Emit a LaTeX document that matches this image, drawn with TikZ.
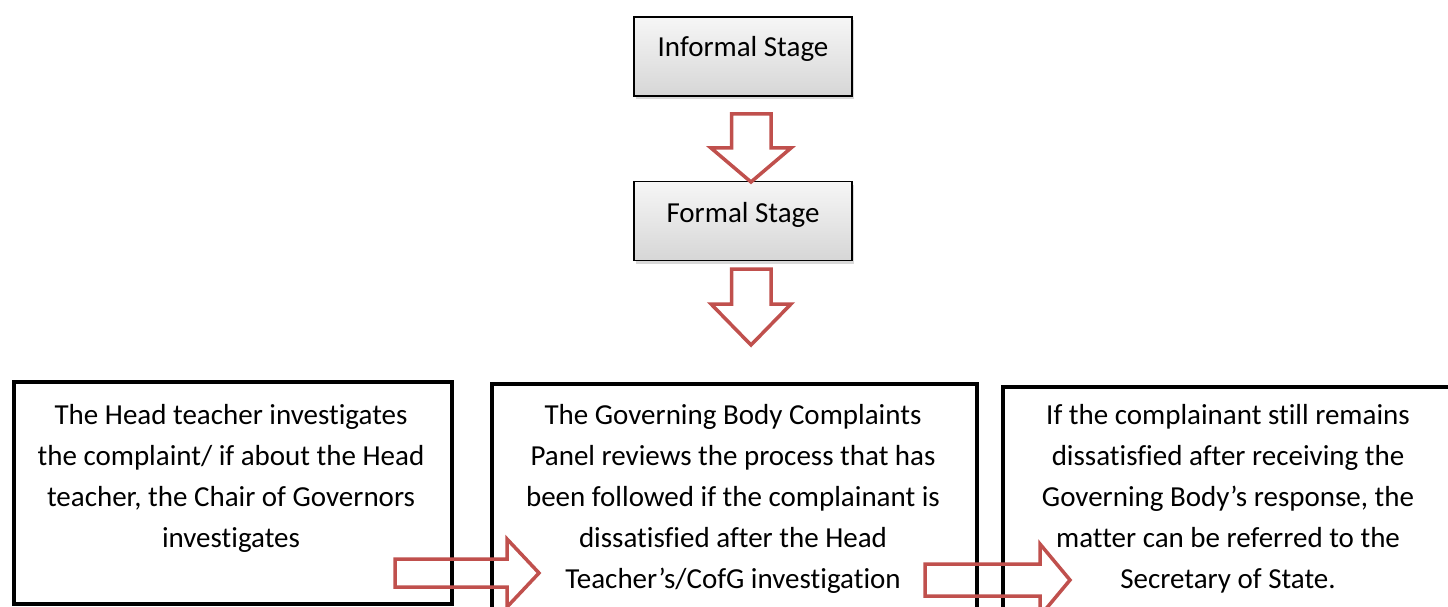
\documentclass[tikz,border=0pt]{standalone}
\usepackage{fontspec}
\setmainfont{Carlito}[RawFeature={-liga;-clig}]
\usetikzlibrary{shadows}
\definecolor{arrowred}{HTML}{C0504D}
\tikzset{
  stagebox/.style={draw=black, line width=1.6pt, top color=gray!7, bottom color=gray!32,
    minimum width=218pt, minimum height=79pt, inner sep=0pt,
    drop shadow={shadow xshift=2pt, shadow yshift=-3pt, opacity=0.3}},
  bigbox/.style={draw=black, line width=4pt, inner sep=0pt, anchor=north west},
  stagetext/.style={font=\fontsize{29}{35}\selectfont, inner sep=0pt, anchor=base},
  bodytext/.style={font=\fontsize{29}{41}\selectfont, inner sep=0pt, align=center, anchor=north},
  blockarrow/.style={draw=arrowred, line width=3.5pt, line join=miter, fill=none}
}
\begin{document}
\begin{tikzpicture}[x=1pt,y=-1pt]
\useasboundingbox (0,0) rectangle (1448,607);
\clip (0,0) rectangle (1448,607);
\fill[white] (0,0) rectangle (1448,607);

% top stage boxes
\node[stagebox] (informal) at (743,56.5) {};
\node[stagetext] (informaltext) at (743,56.5) {Informal Stage};
\node[stagebox] (formal) at (743,221) {};
\node[stagetext] (formaltext) at (743,222) {Formal Stage};

% bottom boxes
\node[bigbox, minimum width=438pt, minimum height=222.5pt] (headbox) at (12,379.5) {};
\node[bigbox, minimum width=485.5pt, minimum height=260pt] (panelbox) at (489.5,382) {};
\node[bigbox, minimum width=460pt, minimum height=260pt] (statebox) at (1001,385) {};

\node[bodytext] (headtext) at (231,404) {The Head teacher investigates\\the complaint/ if about the Head\\teacher, the Chair of Governors\\investigates};
\node[bodytext] (paneltext) at (733,404) {The Governing Body Complaints\\Panel reviews the process that has\\been followed if the complainant is\\dissatisfied after the Head\\Teacher’s/CofG investigation};
\node[bodytext] (statetext) at (1228,404) {If the complainant still remains\\dissatisfied after receiving the\\Governing Body’s response, the\\matter can be referred to the\\Secretary of State.};

% block arrows
\draw[blockarrow] (731.5,114) -- (771,114) -- (771,148) -- (791,148) -- (751,182) -- (711,148) -- (731.5,148) -- cycle;
\draw[blockarrow] (731.5,269) -- (771,269) -- (771,304) -- (791,304) -- (751,345) -- (711,304) -- (731.5,304) -- cycle;
\draw[blockarrow] (395,559) -- (507,559) -- (507,539) -- (539,573) -- (507,607) -- (507,587) -- (395,587) -- cycle;
\draw[blockarrow] (925,564) -- (1040,564) -- (1040,544) -- (1070,580) -- (1040,616) -- (1040,596) -- (925,596) -- cycle;
\end{tikzpicture}
\end{document}
